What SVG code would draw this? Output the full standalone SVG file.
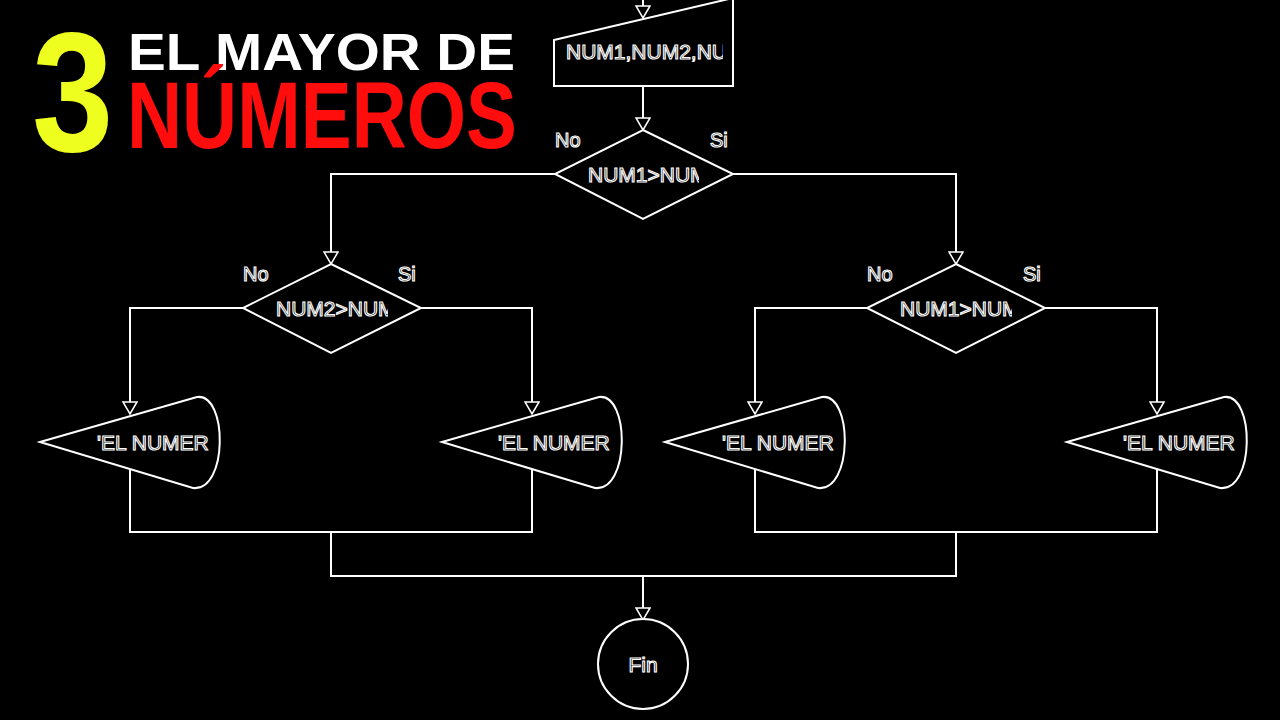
<svg xmlns="http://www.w3.org/2000/svg" width="1280" height="720" viewBox="0 0 1280 720">
<defs>
<style>
.shape{fill:#000;stroke:#fff;stroke-width:2}
.edge{fill:none;stroke:#fff;stroke-width:2}
.lbl{font-family:"Liberation Sans",Arial,sans-serif;font-size:21px;fill:#000;stroke:#fff;stroke-width:1.1}
.yn{font-family:"Liberation Sans",Arial,sans-serif;font-size:20px;fill:#000;stroke:#fff;stroke-width:1.1}
.ttl{font-family:"Liberation Sans",Arial,sans-serif;font-weight:bold}
</style>
<marker id="arr" viewBox="0 0 14 16" refX="13" refY="8" markerWidth="14" markerHeight="16" markerUnits="userSpaceOnUse" orient="auto">
<path d="M1,1 L13,8 L1,15 Z" fill="#000" stroke="#fff" stroke-width="1.5"/>
</marker>
<clipPath id="cIn"><rect x="556" y="30" width="167" height="50"/></clipPath>
<clipPath id="cD1"><rect x="580" y="150" width="119" height="45"/></clipPath>
<clipPath id="cD2"><rect x="268" y="284" width="120" height="45"/></clipPath>
<clipPath id="cD3"><rect x="892" y="284" width="120" height="45"/></clipPath>
</defs>
<rect width="1280" height="720" fill="#000"/>

<g id="title">
<text class="ttl" transform="translate(32,151) scale(0.86,1)" font-size="170" fill="#eeff1f">3</text>
<text class="ttl" x="128" y="70" font-size="52" fill="#fff" textLength="387" lengthAdjust="spacingAndGlyphs">EL MAYOR DE</text>
<text class="ttl" x="127" y="148" font-size="95" fill="#ff0d0d" textLength="390" lengthAdjust="spacingAndGlyphs">NÚMEROS</text>
</g>

<g id="connectors">
<path class="edge" d="M643,-2 V18" marker-end="url(#arr)"/>
<path class="edge" d="M643,86 V130" marker-end="url(#arr)"/>
<path class="edge" d="M555,174 H331 V264" marker-end="url(#arr)"/>
<path class="edge" d="M733,174 H956 V264" marker-end="url(#arr)"/>
<path class="edge" d="M243,308 H130 V414" marker-end="url(#arr)"/>
<path class="edge" d="M420,308 H532 V414" marker-end="url(#arr)"/>
<path class="edge" d="M867,308 H755 V414" marker-end="url(#arr)"/>
<path class="edge" d="M1045,308 H1157 V414" marker-end="url(#arr)"/>
<path class="edge" d="M130,469 V532 H532 V469"/>
<path class="edge" d="M755,469 V532 H1157 V469"/>
<path class="edge" d="M331,532 V576 H956 V532"/>
<path class="edge" d="M643,576 V620" marker-end="url(#arr)"/>
</g>

<g id="input">
<path class="shape" d="M554,40 L733,-2 V86 H554 Z"/>
<text class="lbl" x="566" y="59" clip-path="url(#cIn)">NUM1,NUM2,NUM3</text>
</g>

<g id="decision1">
<path class="shape" d="M643,130 L733,174 L643,219 L555,174 Z"/>
<text class="lbl" x="588" y="182" clip-path="url(#cD1)">NUM1&gt;NUM</text>
<text class="yn" x="555" y="147">No</text>
<text class="yn" x="710" y="147">Si</text>
</g>

<g id="decision2">
<path class="shape" d="M331,264 L421,308 L331,353 L243,308 Z"/>
<text class="lbl" x="276" y="316" clip-path="url(#cD2)">NUM2&gt;NUM</text>
<text class="yn" x="243" y="281">No</text>
<text class="yn" x="398" y="281">Si</text>
</g>

<g id="decision3">
<path class="shape" d="M956,264 L1045,308 L956,353 L867,308 Z"/>
<text class="lbl" x="900" y="316" clip-path="url(#cD3)">NUM1&gt;NUM</text>
<text class="yn" x="867" y="281">No</text>
<text class="yn" x="1023" y="281">Si</text>
</g>

<g id="output1">
<path class="shape" d="M40,442 L197,397 C228,393 228,492 193,488 Z"/>
<text class="lbl" x="97" y="450">'EL NUMER</text>
</g>
<g id="output2">
<path class="shape" d="M442,442 L599,397 C630,393 630,492 595,488 Z"/>
<text class="lbl" x="498" y="450">'EL NUMER</text>
</g>
<g id="output3">
<path class="shape" d="M665,442 L822,397 C853,393 853,492 818,488 Z"/>
<text class="lbl" x="722" y="450">'EL NUMER</text>
</g>
<g id="output4">
<path class="shape" d="M1067,442 L1224,397 C1255,393 1255,492 1220,488 Z"/>
<text class="lbl" x="1123" y="450">'EL NUMER</text>
</g>

<g id="fin">
<circle class="shape" cx="643" cy="664" r="45"/>
<text class="lbl" x="643" y="672" text-anchor="middle">Fin</text>
</g>
</svg>
